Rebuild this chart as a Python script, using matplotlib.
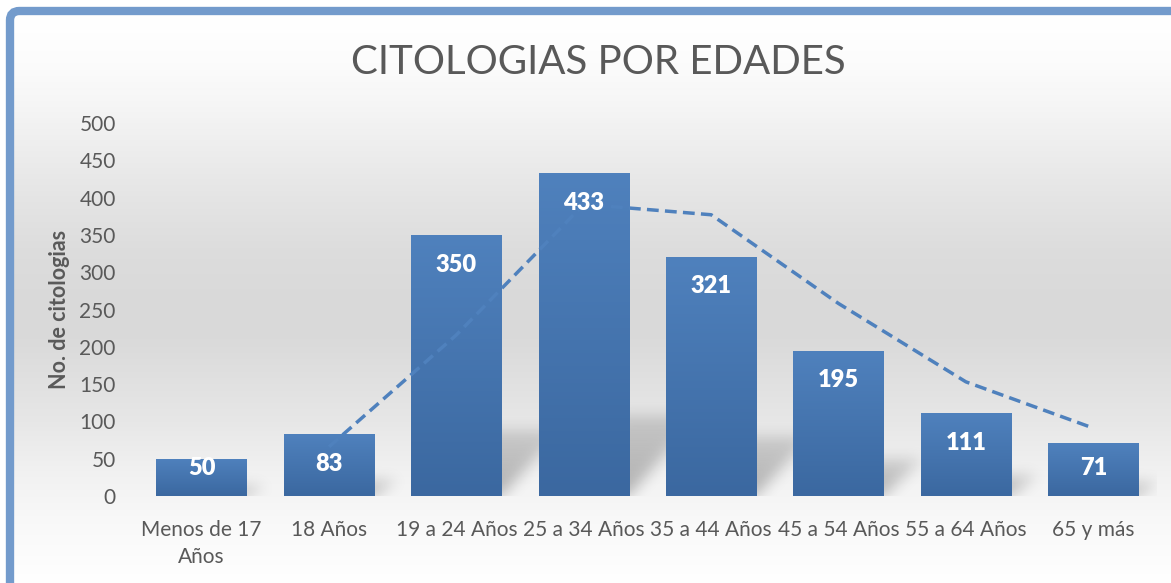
import numpy as np
import matplotlib
matplotlib.use("Agg")
import matplotlib.pyplot as plt
from matplotlib.patches import FancyBboxPatch

## Data

categories = ["Menos de 17\nAños", "18 Años", "19 a 24 Años", "25 a 34 Años",
              "35 a 44 Años", "45 a 54 Años", "55 a 64 Años", "65 y más"]
counts = [50, 83, 350, 433, 321, 195, 111, 71]
# dashed trend line (2 period moving average), starts at the 2nd category
trend_x = [1, 2, 3, 4, 5, 6, 7]
trend_y = [66, 216, 391, 377, 258, 153, 91]
yticks = [0, 50, 100, 150, 200, 250, 300, 350, 400, 450, 500]

plt.rcParams['font.family'] = ['Lato', 'DejaVu Sans']
grey = '#595959'

W, H = 1171, 583
fig = plt.figure(figsize=(W / 100, H / 100), dpi=100)

## Background gradient (white - light grey - white)
bg = fig.add_axes([0, 0, 1, 1], zorder=0)
bg.axis('off')
rows = np.arange(H)
stop_px = [0, 15, 60, 100, 150, 200, 250, 300, 340, 420, 470, 520, 560, 583]
stop_v = [1.0, 1.0, 0.99, 0.965, 0.93, 0.895, 0.865, 0.852, 0.855, 0.905, 0.945, 0.975, 0.99, 1.0]
col = np.interp(rows, stop_px, stop_v)
img = np.repeat(col[:, None], 4, axis=1)
bg.imshow(np.dstack([img, img, img]), aspect='auto', extent=[0, 1, 0, 1])
bg.set_xlim(0, 1)
bg.set_ylim(0, 1)

# white strip outside the frame, then the blue frame
bg.add_patch(plt.Rectangle((0, 0), 6 / W, 1, color='white', zorder=2))
bg.add_patch(plt.Rectangle((0, 1 - 7 / H), 1, 7 / H, color='white', zorder=2))
frame = FancyBboxPatch((10 / W, -0.05), 1.05, 1 - 11 / H + 0.05,
                       boxstyle="round,pad=0,rounding_size=0.008",
                       fill=False, edgecolor='#739bcc', linewidth=6,
                       zorder=3, mutation_aspect=W / H)
bg.add_patch(frame)

## Main axes
ax = fig.add_axes([138 / W, 87 / H, 1019 / W, 373 / H], zorder=1)
ax.set_facecolor('none')
x = np.arange(len(categories))
bw = 0.71
xmin, xmax, ymax = -0.5, len(categories) - 0.5, 500

# soft skewed shadows behind the bars, blurred on a grid
nx, ny = 1019, 373
gx = np.linspace(xmin, xmax, nx)
gy = np.linspace(0, ymax, ny)
GX, GY = np.meshgrid(gx, gy)
shade = np.zeros((ny, nx))
for xi, h in zip(x, counts):
    hs = 0.25 * h
    dx = 0.45 * min(h, 433) / 433 + 0.1
    t = np.clip(GY / hs, 0, 1)
    left = xi - bw / 2 + 0.1 + t * dx
    right = xi + bw / 2 + t * dx
    m = (GY <= hs) & (GX >= left) & (GX <= right)
    shade = np.maximum(shade, m * (1 - 0.5 * t))
sig = 7
k = np.arange(-3 * sig, 3 * sig + 1)
kern = np.exp(-k ** 2 / (2 * sig ** 2))
kern /= kern.sum()
shade = np.apply_along_axis(lambda r: np.convolve(r, kern, mode='same'), 1, shade)
shade = np.apply_along_axis(lambda c: np.convolve(c, kern, mode='same'), 0, shade)
rgba = np.zeros((ny, nx, 4))
rgba[..., 3] = 0.28 * shade
ax.imshow(rgba, origin='lower', aspect='auto', extent=[xmin, xmax, 0, ymax], zorder=1)

bars = ax.bar(x, counts, width=bw, color='#4a7ab5', zorder=2)

# vertical gradient inside each bar
grad = np.linspace(0, 1, 100)[:, None]
cmap = matplotlib.colors.LinearSegmentedColormap.from_list('b', ['#3b68a0', '#4f81bd'])
for b in bars:
    x0, w, h = b.get_x(), b.get_width(), b.get_height()
    im = ax.imshow(grad, cmap=cmap, aspect='auto', origin='lower',
                   extent=[x0, x0 + w, 0, h], zorder=2.1)
    im.set_clip_path(b)

ax.plot(trend_x, trend_y, color='#4f81bd', lw=2.5, linestyle=(0, (3.4, 1.8)),
        zorder=3)

for xi, v in zip(x, counts):
    ax.text(xi, max(v - 40, 37), str(v), ha='center', va='center', color='white',
            fontsize=17, fontweight='heavy', zorder=4)

ax.set_xlim(xmin, xmax)
ax.set_ylim(0, ymax)
ax.set_yticks(yticks)
ax.set_xticks(x)
ax.set_xticklabels(categories, linespacing=1.45)
ax.tick_params(axis='y', length=0, pad=16, labelsize=15, labelcolor=grey)
ax.tick_params(axis='x', length=0, pad=17, labelsize=15, labelcolor=grey)
for s in ax.spines.values():
    s.set_visible(False)

ax.set_ylabel('No. de citologias', fontsize=15.5, fontweight='bold', color=grey, labelpad=7)
fig.text(598 / W, 1 - 62 / H, 'CITOLOGIAS POR EDADES', ha='center', va='center',
         fontsize=29, color=grey)

fig.savefig('out.png', dpi=100)
